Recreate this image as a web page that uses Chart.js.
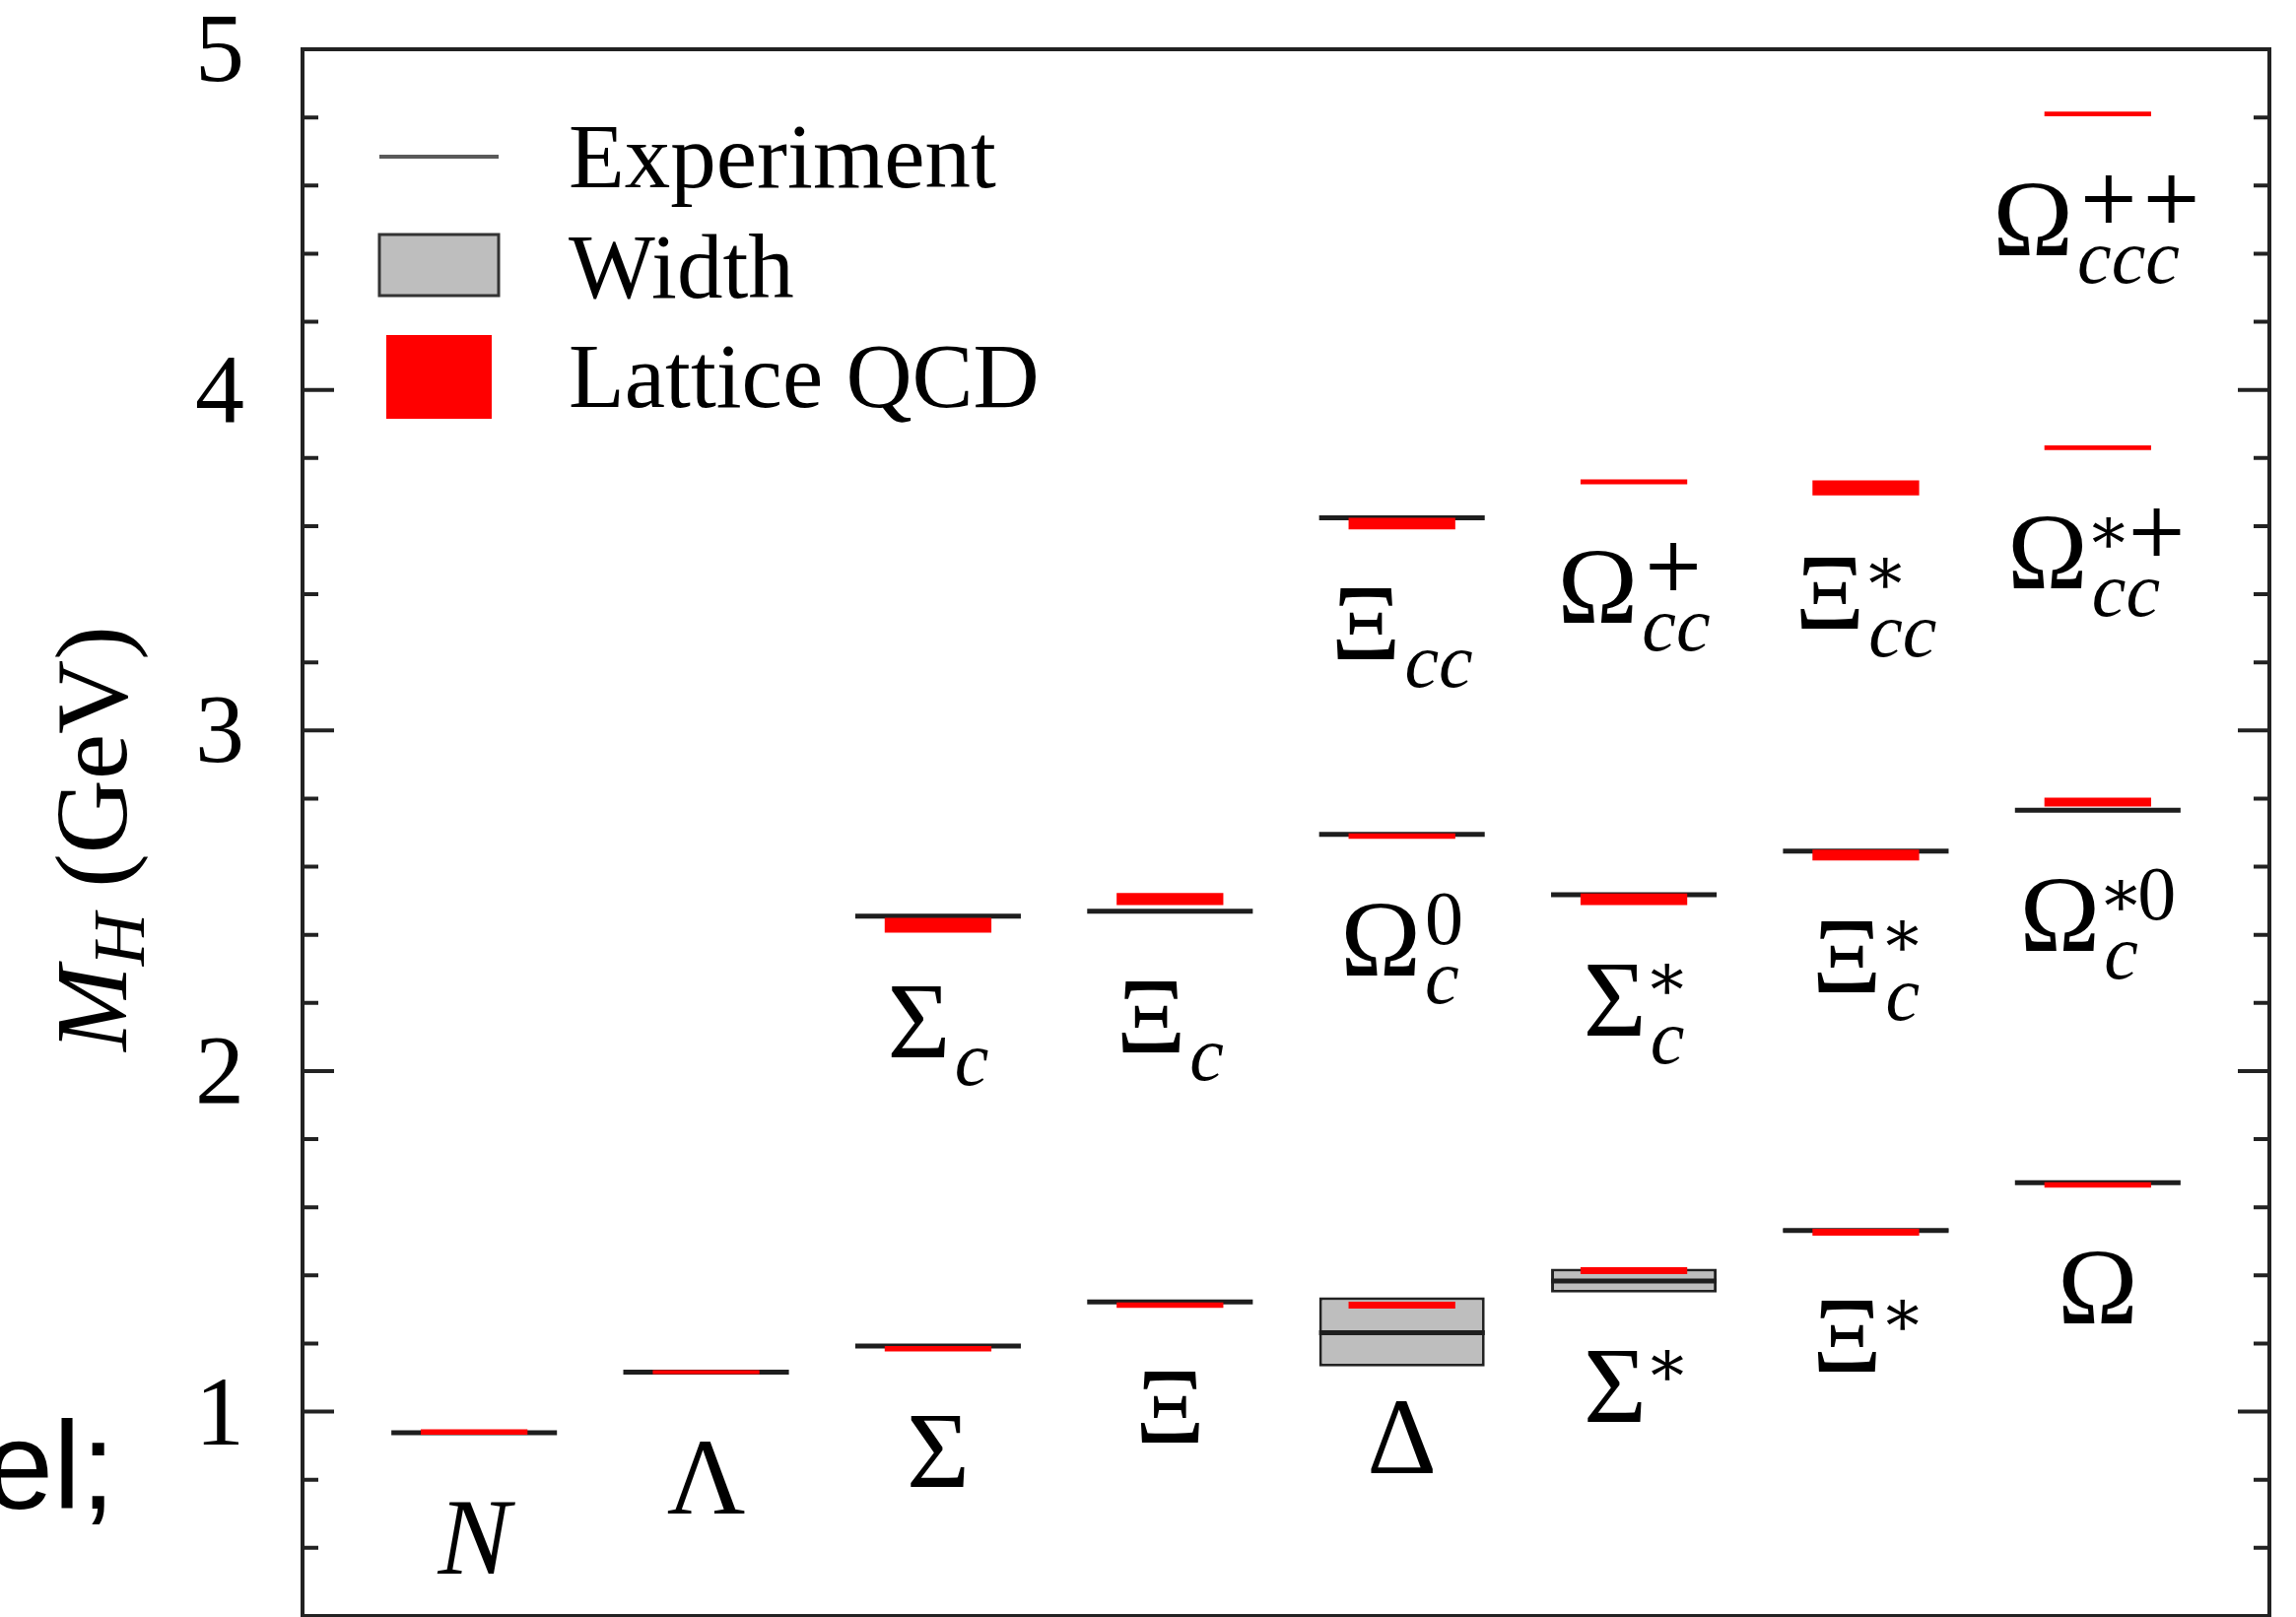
<!DOCTYPE html>
<html>
<head>
<meta charset="utf-8">
<title>Baryon masses: experiment vs lattice QCD</title>
<script src="https://cdn.jsdelivr.net/npm/chart.js@4.4.1/dist/chart.umd.min.js"></script>
<style>
  html, body { margin: 0; padding: 0; background: #fff; }
  #wrap { position: relative; width: 2330px; height: 1641px; }
</style>
</head>
<body>
<div id="wrap"><canvas id="massChart" width="2330" height="1641"></canvas></div>
<script>
// particle names: base symbol, subscript, superscript
const labelBase = ['N', 'Λ', 'Σ', 'Ξ', 'Δ', 'Σ', 'Ξ', 'Ω',
                   'Σ', 'Ξ', 'Ω', 'Σ', 'Ξ', 'Ω',
                   'Ξ', 'Ω', 'Ξ', 'Ω', 'Ω'];
const labelSub = ['', '', '', '', '', '', '', '',
                  'c', 'c', 'c', 'c', 'c', 'c',
                  'cc', 'cc', 'cc', 'cc', 'ccc'];
const labelSup = ['', '', '', '', '', '*', '*', '',
                  '', '', '0', '*', '*', '*0',
                  '', '+', '*', '*+', '++'];
// column each particle sits in
const column = [0, 1, 2, 3, 4, 5, 6, 7,
                2, 3, 4, 5, 6, 7,
                4, 5, 6, 7, 7];
// experimental masses (GeV), null = no measurement
const expMass = [0.938, 1.116, 1.193, 1.322, 1.232, 1.384, 1.532, 1.672,
                 2.455, 2.469, 2.695, 2.518, 2.646, 2.766,
                 3.624, null, null, null, null];
// experimental width band (GeV)
const widthLow = [null, null, null, null, 1.133, 1.350, 1.527, null,
                  null, null, null, null, null, null,
                  null, null, null, null, null];
const widthHigh = [null, null, null, null, 1.336, 1.420, 1.537, null,
                   null, null, null, null, null, null,
                   null, null, null, null, null];
// lattice QCD results (GeV) and their errors
const latMass = [0.940, 1.116, 1.185, 1.313, 1.313, 1.414, 1.527, 1.666,
                 2.428, 2.505, 2.690, 2.504, 2.634, 2.790,
                 3.607, 3.730, 3.712, 3.830, 4.810];
const latErr = [0.008, 0.006, 0.008, 0.008, 0.010, 0.010, 0.010, 0.008,
                0.022, 0.018, 0.008, 0.017, 0.016, 0.013,
                0.017, 0.007, 0.022, 0.007, 0.007];

const yTickValues = [1, 2, 3, 4, 5];
const yTickLabels = ['1', '2', '3', '4', '5'];
const legendLabels = ['Experiment', 'Width', 'Lattice QCD'];

const SERIF = "'Liberation Serif', 'Times New Roman', serif";
const MATH = "'DejaVu Serif', serif";

// build datasets
const widthData = [];
const expData = [];
const latData = [];
for (let i = 0; i < column.length; i++) {
    if (widthLow[i] !== null) {
        widthData.push({ x: column[i], y: [widthLow[i], widthHigh[i]] });
    }
    if (expMass[i] !== null) {
        expData.push({ x: column[i] - 0.357, y: expMass[i] });
        expData.push({ x: column[i] + 0.357, y: expMass[i] });
        expData.push({ x: column[i], y: null });
    }
    latData.push({ x: column[i], y: [latMass[i] - latErr[i], latMass[i] + latErr[i]] });
}

// draws one glyph with its ink centred on cy
function glyphAt(ctx, ch, x, cy) {
    const m = ctx.measureText(ch);
    ctx.fillText(ch, x, cy + (m.actualBoundingBoxAscent - m.actualBoundingBoxDescent) / 2);
    return m.width;
}

function supFont(ch) {
    if (/[0-9]/.test(ch)) return '78px ' + SERIF;
    if (ch === '*') return '68px ' + MATH;
    return '76px ' + MATH;
}

function drawParticle(ctx, i, cx, baseY) {
    const base = labelBase[i], sub = labelSub[i], sup = labelSup[i];
    const baseFont = (/[A-Za-z]/.test(base) ? 'italic ' : '') + '110px ' + SERIF;
    ctx.font = baseFont;
    const bw = ctx.measureText(base).width;
    ctx.font = 'italic 78px ' + SERIF;
    const subW = ctx.measureText(sub).width;
    let supW = 0;
    for (const ch of sup) {
        ctx.font = supFont(ch);
        supW += ctx.measureText(ch).width;
    }
    const gap = (sub || sup) ? 4 : 0;
    const total = bw + gap + Math.max(subW, supW);
    let x = cx - total / 2;

    ctx.font = baseFont;
    ctx.fillText(base, x, baseY);
    x += bw + gap;
    if (sub) {
        ctx.font = 'italic 78px ' + SERIF;
        ctx.fillText(sub, x, baseY + 28);
    }
    let sx = x;
    for (const ch of sup) {
        ctx.font = supFont(ch);
        sx += glyphAt(ctx, ch, sx, baseY - 57);
    }
}

const framePlugin = {
    id: 'frame',
    afterDraw(chart) {
        const ctx = chart.ctx;
        const area = chart.chartArea;
        const y = chart.scales.y;
        const x = chart.scales.x;
        ctx.save();

        // frame
        ctx.strokeStyle = '#222';
        ctx.lineWidth = 4;
        ctx.strokeRect(area.left, area.top, area.right - area.left, area.bottom - area.top);

        // inward ticks on left and right axes
        y.ticks.forEach(t => {
            const yp = y.getPixelForValue(t.value);
            const major = Math.abs(t.value - Math.round(t.value)) < 1e-6;
            const len = major ? 32 : 16;
            ctx.beginPath();
            ctx.moveTo(area.left, yp);
            ctx.lineTo(area.left + len, yp);
            ctx.moveTo(area.right, yp);
            ctx.lineTo(area.right - len, yp);
            ctx.stroke();
        });

        // tick labels
        ctx.fillStyle = '#000';
        ctx.font = '100px ' + SERIF;
        ctx.textAlign = 'right';
        yTickValues.forEach((v, k) => {
            const yp = y.getPixelForValue(v);
            const m = ctx.measureText(yTickLabels[k]);
            ctx.fillText(yTickLabels[k], area.left - 59, yp + (m.actualBoundingBoxAscent - m.actualBoundingBoxDescent) / 2);
        });
        ctx.textAlign = 'left';

        // axis title M_H (GeV)
        ctx.save();
        ctx.translate(128, (area.top + area.bottom) / 2 + 6);
        ctx.rotate(-Math.PI / 2);
        ctx.font = 'italic 104px ' + SERIF;
        const wM = ctx.measureText('M').width;
        ctx.font = 'italic 74px ' + SERIF;
        const wH = ctx.measureText('H').width;
        ctx.font = '104px ' + SERIF;
        const wRest = ctx.measureText(' (GeV)').width;
        let tx = -(wM + wH + wRest) / 2;
        ctx.font = 'italic 104px ' + SERIF;
        ctx.fillText('M', tx, 0);
        ctx.font = 'italic 74px ' + SERIF;
        ctx.fillText('H', tx + wM, 18);
        ctx.font = '104px ' + SERIF;
        ctx.fillText(' (GeV)', tx + wM + wH, 0);
        ctx.restore();

        // legend
        const lx = area.left + 78;
        ctx.strokeStyle = '#5a5a5a';
        ctx.lineWidth = 4;
        ctx.beginPath();
        ctx.moveTo(lx, area.top + 109);
        ctx.lineTo(lx + 121, area.top + 109);
        ctx.stroke();
        ctx.fillStyle = '#bebebe';
        ctx.fillRect(lx, area.top + 188, 121, 62);
        ctx.strokeStyle = '#333';
        ctx.lineWidth = 3;
        ctx.strokeRect(lx, area.top + 188, 121, 62);
        ctx.fillStyle = '#ff0000';
        ctx.fillRect(lx + 7, area.top + 290, 107, 85);
        ctx.fillStyle = '#000';
        ctx.font = '93px ' + SERIF;
        ctx.fillText(legendLabels[0], lx + 192, area.top + 140);
        ctx.fillText(legendLabels[1], lx + 192, area.top + 252);
        ctx.fillText(legendLabels[2], lx + 192, area.top + 363);

        // particle names under their levels
        for (let i = 0; i < column.length; i++) {
            const anchor = expMass[i] !== null ? expMass[i] : latMass[i];
            drawParticle(ctx, i, x.getPixelForValue(column[i]), y.getPixelForValue(anchor) + 143);
        }

        // stray slide text at the left edge
        ctx.font = "126px 'Liberation Sans', Arial, sans-serif";
        ctx.fillText('el;', -16, 1531);

        ctx.restore();
    }
};

new Chart(document.getElementById('massChart'), {
    type: 'bar',
    data: {
        datasets: [
            {
                type: 'bar',
                label: 'Width',
                data: widthData,
                backgroundColor: '#bebebe',
                borderColor: '#222',
                borderWidth: 3,
                borderSkipped: false,
                barPercentage: 0.714,
                categoryPercentage: 1,
                grouped: false,
                order: 3
            },
            {
                type: 'line',
                label: 'Experiment',
                data: expData,
                borderColor: '#1e1e1e',
                borderWidth: 5,
                pointRadius: 0,
                spanGaps: false,
                tension: 0,
                order: 2
            },
            {
                type: 'bar',
                label: 'Lattice QCD',
                data: latData,
                backgroundColor: '#ff0000',
                borderWidth: 0,
                barPercentage: 0.46,
                categoryPercentage: 1,
                grouped: false,
                order: 1
            }
        ]
    },
    options: {
        responsive: false,
        animation: false,
        devicePixelRatio: 1,
        layout: { padding: { left: 0, top: 50, right: 27, bottom: 1 } },
        plugins: {
            legend: { display: false },
            tooltip: { enabled: false },
            title: { display: false }
        },
        scales: {
            x: {
                type: 'linear',
                min: -0.74,
                max: 7.74,
                offset: false,
                display: false,
                ticks: { stepSize: 1, includeBounds: false }
            },
            y: {
                type: 'linear',
                min: 0.4,
                max: 5,
                ticks: { stepSize: 0.2, display: false },
                grid: { display: false },
                border: { display: false },
                afterFit: (scale) => { scale.width = 307; }
            }
        }
    },
    plugins: [framePlugin]
});
</script>
</body>
</html>
